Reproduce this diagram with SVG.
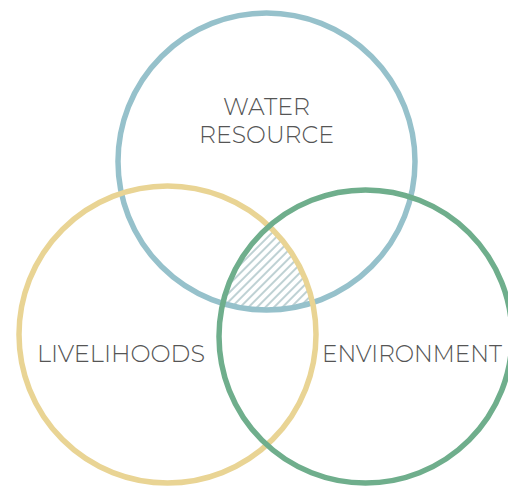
<svg xmlns="http://www.w3.org/2000/svg" width="508" height="489" viewBox="0 0 508 489">
  <style>
    .ring { fill: none; stroke-width: 5.5; }
    .water { stroke: #96C1CB; }
    .live { stroke: #E9D494; }
    .env { stroke: #6FAE8C; }
    .label { font-family: "Montserrat", "Inter", "Liberation Sans", sans-serif; font-weight: 300; font-size: 25px; fill: #555555; }
  </style>
  <defs>
    <pattern id="hatch" patternUnits="userSpaceOnUse" width="6" height="6" patternTransform="rotate(45)">
      <line x1="3" y1="0" x2="3" y2="6" stroke="#AFC6C9" stroke-width="1.6"/>
    </pattern>
    <clipPath id="clipWater"><circle cx="266.5" cy="161.5" r="148.5"/></clipPath>
    <clipPath id="clipLive"><circle cx="167.5" cy="334.5" r="148.5"/></clipPath>
    <clipPath id="clipEnv"><circle cx="365.5" cy="336.5" r="146.5"/></clipPath>
  </defs>

  <!-- shaded overlap of all three sets -->
  <g id="overlap" clip-path="url(#clipWater)">
    <g clip-path="url(#clipLive)">
      <g clip-path="url(#clipEnv)">
        <rect x="0" y="0" width="508" height="489" fill="url(#hatch)"/>
      </g>
    </g>
  </g>

  <g id="water-resource">
    <circle class="ring water" cx="266.5" cy="161.5" r="148.5"/>
    <text class="label" x="266.5" y="115" text-anchor="middle" textLength="87" lengthAdjust="spacingAndGlyphs">WATER</text>
    <text class="label" x="266.5" y="143" text-anchor="middle" textLength="135" lengthAdjust="spacingAndGlyphs">RESOURCE</text>
  </g>

  <g id="livelihoods">
    <circle class="ring live" cx="167.5" cy="334.5" r="148.5"/>
    <text class="label" x="121" y="362" text-anchor="middle" textLength="168" lengthAdjust="spacingAndGlyphs">LIVELIHOODS</text>
  </g>

  <g id="environment">
    <circle class="ring env" cx="365.5" cy="336.5" r="146.5"/>
    <text class="label" x="412" y="362" text-anchor="middle" textLength="180" lengthAdjust="spacingAndGlyphs">ENVIRONMENT</text>
  </g>

  <g id="connectors"></g>
</svg>
